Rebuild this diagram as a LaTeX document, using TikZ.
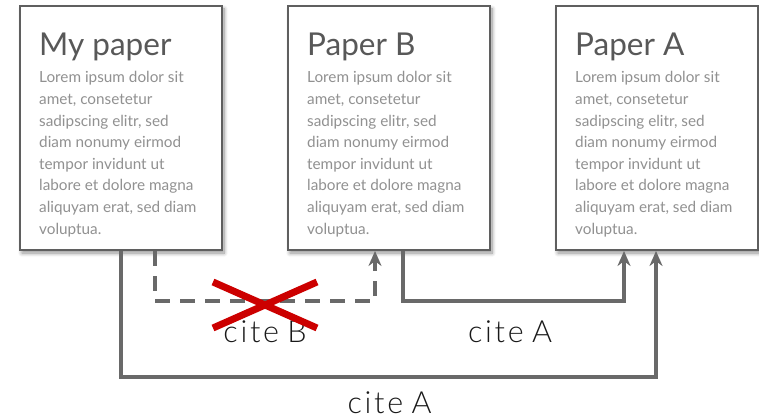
\documentclass[tikz,border=0pt]{standalone}
\usepackage{fontspec}
\setmainfont{Lato}
\newfontfamily\lightfont[LetterSpace=9,WordSpace=0.75]{Lato Light}
\usetikzlibrary{arrows.meta,shadows.blur,calc}
\definecolor{boxline}{RGB}{95,95,95}
\definecolor{conncol}{RGB}{105,105,105}
\definecolor{titlecol}{RGB}{88,88,88}
\definecolor{bodycol}{RGB}{145,145,145}
\definecolor{crossred}{RGB}{204,0,0}
\definecolor{labelcol}{RGB}{25,25,25}
\tikzset{
  paper/.style={draw=boxline, line width=2pt, fill=white, minimum width=202pt, minimum height=244pt, inner sep=0pt, anchor=north west,
    blur shadow={shadow xshift=2pt, shadow yshift=-3pt, shadow blur radius=4pt, shadow blur steps=8, shadow opacity=45}},
  ptitle/.style={anchor=base west, inner sep=0pt, text=titlecol, font=\fontsize{31.5}{36}\selectfont},
  pbody/.style={anchor=north west, inner sep=0pt, align=left, text=bodycol, font=\fontsize{15.3}{21.6}\selectfont},
  conn/.style={draw=conncol, line width=4pt, -{Stealth[length=15pt,width=13pt]}},
  dconn/.style={conn, dash pattern=on 15pt off 10pt},
  citelabel/.style={text=labelcol, font=\lightfont\fontsize{30.5}{34}\selectfont, inner sep=0pt, anchor=base},
}
\newcommand{\loremtext}{Lorem ipsum dolor sit\\amet, consetetur\\sadipscing elitr, sed\\diam nonumy eirmod\\tempor invidunt ut\\labore et dolore magna\\aliquyam erat, sed diam\\voluptua.}
\begin{document}
\begin{tikzpicture}[x=1pt,y=-1pt]
\useasboundingbox (0,0) rectangle (759,419);
% boxes
\node[paper] (mine) at (19,5) {};
\node[paper] (pB) at (287,5) {};
\node[paper] (pA) at (555,5) {};
% titles
\node[ptitle] (tmine) at ($(mine.north west)+(20,51)$) {My paper};
\node[ptitle] (tB) at ($(pB.north west)+(20,51)$) {Paper B};
\node[ptitle] (tA) at ($(pA.north west)+(20,51)$) {Paper A};
% bodies
\node[pbody] (bmine) at ($(mine.north west)+(20,66.5)$) {\loremtext};
\node[pbody] (bB) at ($(pB.north west)+(20,66.5)$) {\loremtext};
\node[pbody] (bA) at ($(pA.north west)+(20,66.5)$) {\loremtext};
% connector anchors
\coordinate (s1) at ($(mine.south west)+(102,0)$);
\coordinate (t1) at ($(pA.south west)+(101,0)$);
\coordinate (s2) at ($(pB.south west)+(116,0)$);
\coordinate (t2) at ($(pA.south west)+(69,0)$);
\coordinate (s3) at ($(mine.south west)+(136,0)$);
\coordinate (t3) at ($(pB.south west)+(88,0)$);
% connectors
\draw[conn] (s1) -- ++(0,126) -| (t1);
\draw[conn] (s2) -- ++(0,50) -| (t2);
\draw[dconn] (s3) -- ++(0,50) -| (t3);
% labels
\node[citelabel] (lB) at (265,342.3) {cite B};
\node[citelabel] (lA1) at (510,342.3) {cite A};
\node[citelabel] (lA2) at (389.5,413.5) {cite A};
% red cross
\draw[crossred, line width=7pt] (213,282) -- (317,328);
\draw[crossred, line width=7pt] (213,328) -- (317,282);
\end{tikzpicture}
\end{document}
